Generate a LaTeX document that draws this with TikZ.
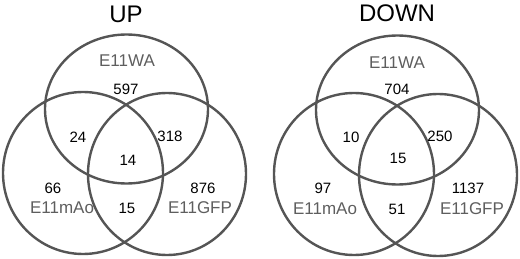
\documentclass[tikz,border=0pt]{standalone}
\usepackage{fontspec}
\setmainfont{Liberation Sans}
\definecolor{ring}{HTML}{555555}
\definecolor{lab}{HTML}{5E5E5E}
\begin{document}
\begin{tikzpicture}[x=1pt,y=-1pt,
  ring/.style={draw=ring,line width=2.4pt},
  num/.style={inner sep=0pt,font=\fontsize{15}{15}\selectfont,text=black},
  setlab/.style={inner sep=0pt,font=\fontsize{17}{17}\selectfont,text=lab},
  ttl/.style={inner sep=0pt,font=\fontsize{24}{24}\selectfont,text=black}]
\useasboundingbox (0,0) rectangle (520,259);
% UP panel
\draw[ring] (126.5,109) ellipse [x radius=81.5,y radius=74.5];
\draw[ring] (83,173) ellipse [x radius=80,y radius=81];
\draw[ring] (167,174) ellipse [x radius=79,y radius=81];
\node[ttl] (tup) at (126,14) {UP};
\node[setlab] (uwa) at (127,61) {E11WA};
\node[num] (u597) at (126,89) {597};
\node[num] (u24) at (78,137) {24};
\node[num] (u318) at (170,136) {318};
\node[num] (u14) at (128,160) {14};
\node[num] (u66) at (53,188) {66};
\node[setlab] (umao) at (62,208) {E11mAo};
\node[num] (u15) at (127,208) {15};
\node[num] (u876) at (203,188) {876};
\node[setlab] (ugfp) at (200,208) {E11GFP};
% DOWN panel
\draw[ring] (397.5,110) ellipse [x radius=81.5,y radius=74.5];
\draw[ring] (354,174) ellipse [x radius=80,y radius=81];
\draw[ring] (438,175) ellipse [x radius=79,y radius=81];
\node[ttl] (tdown) at (397,13) {DOWN};
\node[setlab] (dwa) at (397,63) {E11WA};
\node[num] (d704) at (397,89) {704};
\node[num] (d10) at (351,137) {10};
\node[num] (d250) at (440,136) {250};
\node[num] (d15) at (398,158) {15};
\node[num] (d97) at (323,188) {97};
\node[setlab] (dmao) at (325,209) {E11mAo};
\node[num] (d51) at (397,209) {51};
\node[num] (d1137) at (468,188) {1137};
\node[setlab] (dgfp) at (472,209) {E11GFP};
\end{tikzpicture}
\end{document}
